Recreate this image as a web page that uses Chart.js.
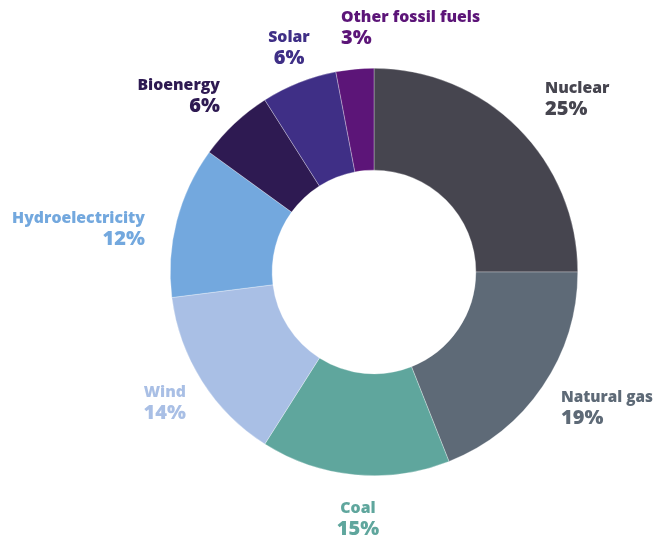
<!DOCTYPE html>
<html>
<head>
<meta charset="utf-8">
<script src="https://cdn.jsdelivr.net/npm/chart.js@4/dist/chart.umd.min.js"></script>
<style>
  html, body { margin: 0; padding: 0; background: #ffffff; }
  #wrap { width: 655px; height: 540px; position: relative; }
</style>
</head>
<body>
<div id="wrap"><canvas id="mixChart"></canvas></div>
<script>
// Fonti di energia, in senso orario dall'alto
const sources = ["Nuclear", "Natural gas", "Coal", "Wind", "Hydroelectricity", "Bioenergy", "Solar", "Other fossil fuels"];
const shares = [25, 19, 15, 14, 12, 6, 6, 3];
const sliceColors = ["#46454f", "#5e6a77", "#5fa69d", "#a9bfe5", "#73a8de", "#2e1a52", "#3f2f86", "#5c1578"];

// Posizione etichette rispetto al centro del grafico: [dx, dy, allineamento]
const labelPlacement = [
  [171, -184, "left"],
  [187, 125, "left"],
  [-16, 236, "center"],
  [-188, 120, "right"],
  [-229, -54, "right"],
  [-154, -187, "right"],
  [-85, -235, "center"],
  [-33, -255, "left"],
];

const fontFamily = "'Open Sans', 'DejaVu Sans', sans-serif";

// ✅ Plugin per le etichette esterne (nome + percentuale)
const outerLabels = {
  id: "outerLabels",
  afterDraw(chart) {
    const ctx = chart.ctx;
    const arcs = chart.getDatasetMeta(0).data;
    ctx.save();
    ctx.textBaseline = "middle";
    arcs.forEach((arc, i) => {
      const [dx, dy, align] = labelPlacement[i];
      const x = arc.x + dx;
      const y = arc.y + dy;
      // se il testo esce dal bordo destro viene compresso
      const maxW = align === "left" ? chart.width - x - 2 : undefined;
      ctx.fillStyle = sliceColors[i];
      ctx.textAlign = align;
      ctx.font = "800 15.8px " + fontFamily;
      if (maxW) ctx.fillText(sources[i], x, y, maxW);
      else ctx.fillText(sources[i], x, y);
      ctx.font = "800 20px " + fontFamily;
      ctx.fillText(shares[i] + "%", x, y + 21);
    });
    ctx.restore();
  },
};

const ctx = document.getElementById("mixChart").getContext("2d");
new Chart(ctx, {
  type: "doughnut",
  data: {
    labels: sources,
    datasets: [{
      data: shares,
      backgroundColor: sliceColors,
      borderColor: "rgba(255,255,255,0.6)",
      borderWidth: 0.5,
    }],
  },
  options: {
    responsive: true,
    maintainAspectRatio: false,
    animation: false,
    cutout: "50%",
    layout: { padding: { left: 170, right: 77, top: 68, bottom: 64 } },
    plugins: {
      legend: { display: false },
      tooltip: { enabled: false },
    },
  },
  plugins: [outerLabels],
});
</script>
</body>
</html>
